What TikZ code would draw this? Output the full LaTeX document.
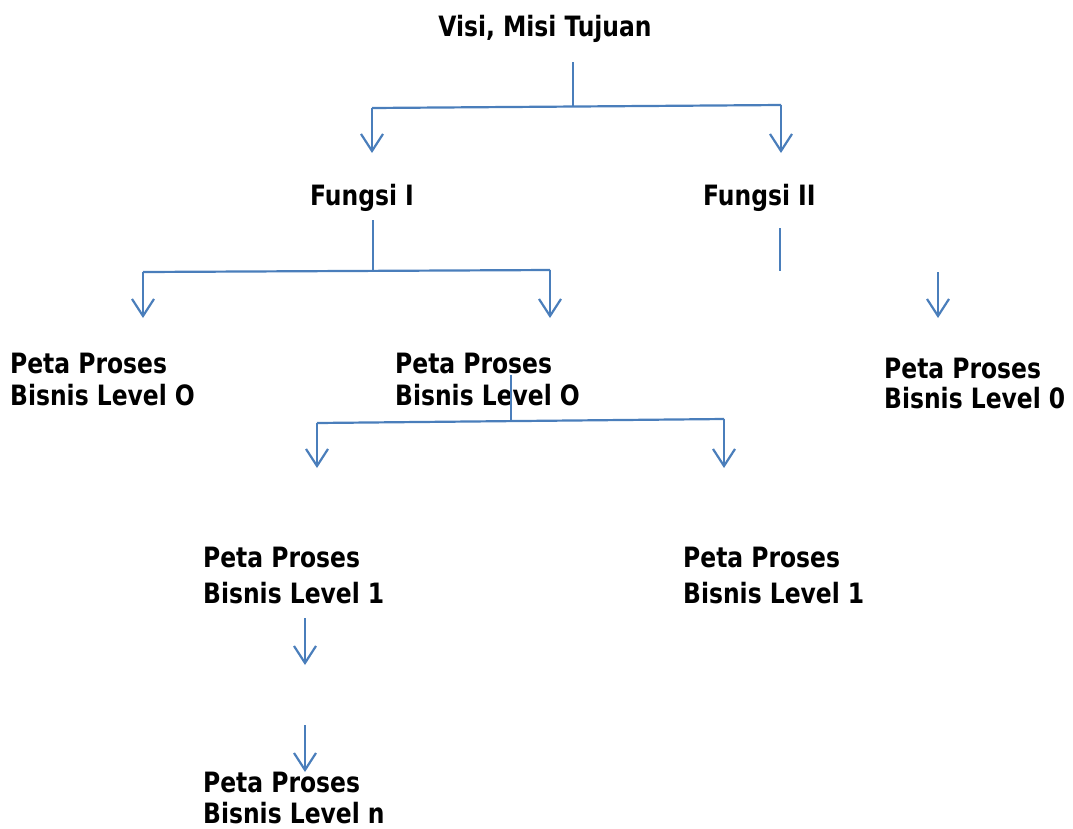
\documentclass[tikz,border=0pt]{standalone}
\usepackage{fontspec}
\setmainfont{DejaVu Sans Condensed}[FakeStretch=0.93]
\usetikzlibrary{arrows.meta}
\definecolor{lineblue}{RGB}{74,126,187}
\tikzset{
  lbl/.style={anchor=base west,align=left,inner sep=0pt,
    font=\fontsize{28}{36}\selectfont\bfseries},
  link/.style={draw=lineblue,line width=2.2pt},
  down/.style={link,-{Straight Barb[length=17pt,width=22pt,line width=2.2pt]}}
}
\begin{document}
\begin{tikzpicture}[x=1pt,y=-1pt]
\useasboundingbox (0,0) rectangle (1073,828);
%
\node[lbl,anchor=base] (visi) at (545,36) {Visi, Misi Tujuan};
\node[lbl] (f1) at (310,205) {Fungsi I};
\node[lbl] (f2) at (703,205) {Fungsi II};
\node[lbl] (p0a) at (10,405) {Peta Proses\\[-4pt]Bisnis Level O};
\node[lbl] (p0b) at (395,405) {Peta Proses\\[-4pt]Bisnis Level O};
\node[lbl] (p0c) at (884,408) {Peta Proses\\[-6pt]Bisnis Level 0};
\node[lbl] (p1a) at (203,603) {Peta Proses\\Bisnis Level 1};
\node[lbl] (p1b) at (683,603) {Peta Proses\\Bisnis Level 1};
\node[lbl] (pn) at (203,823) {Peta Proses\\[-5pt]Bisnis Level n};
%
\coordinate (v0) at (573,62); \coordinate (v1) at (573,106);
\coordinate (h1) at (372,108); \coordinate (h2) at (781,105);
\draw[link] (v0) -- (v1);
\draw[link] (h1) -- (h2);
\draw[down] (h1) -- (372,153);
\draw[down] (h2) -- (781,153);
%
\coordinate (w0) at (373,220); \coordinate (w1) at (373,271);
\coordinate (g1) at (143,272); \coordinate (g2) at (550,270);
\draw[link] (w0) -- (w1);
\draw[link] (g1) -- (g2);
\draw[down] (g1) -- (143,318);
\draw[down] (g2) -- (550,318);
%
\draw[link] (780,228) -- (780,271);
\draw[down] (938,272) -- (938,318);
%
\coordinate (u0) at (511,375); \coordinate (u1) at (511,421);
\coordinate (k1) at (317,423); \coordinate (k2) at (724,419);
\draw[link] (u0) -- (u1);
\draw[link] (k1) -- (k2);
\draw[down] (k1) -- (317,468);
\draw[down] (k2) -- (724,468);
%
\draw[down] (305,618) -- (305,665);
\draw[down] (305,725) -- (305,772);
%
\end{tikzpicture}
\end{document}
